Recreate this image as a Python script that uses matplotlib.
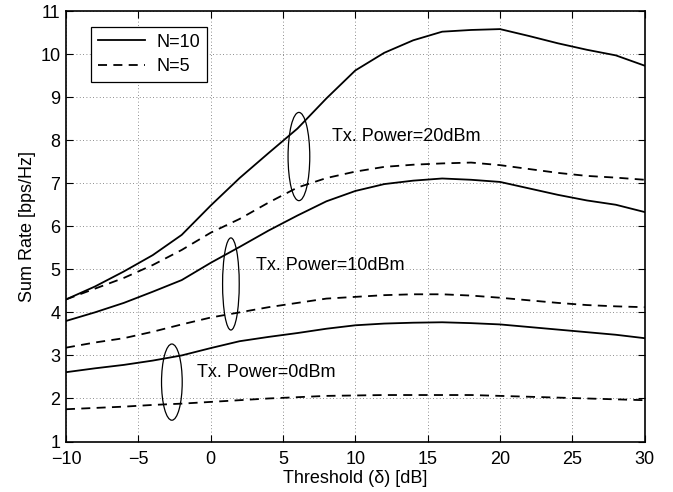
import matplotlib
matplotlib.use('Agg')
import matplotlib.pyplot as plt
from matplotlib.patches import Ellipse
import numpy as np

plt.rcParams['font.family'] = ['Liberation Sans', 'DejaVu Sans']

# threshold values [dB]
thr = np.arange(-10, 31, 2)

# N=10 curves
n10_20dbm = [4.30, 4.60, 4.95, 5.33, 5.80, 6.48, 7.12, 7.70, 8.27, 8.97, 9.62,
             10.03, 10.32, 10.52, 10.56, 10.58, 10.42, 10.25, 10.10, 9.97, 9.73]
n10_10dbm = [3.80, 4.00, 4.22, 4.48, 4.75, 5.15, 5.52, 5.90, 6.25, 6.58, 6.82,
             6.98, 7.06, 7.11, 7.08, 7.03, 6.88, 6.73, 6.60, 6.50, 6.33]
n10_0dbm = [2.61, 2.70, 2.78, 2.88, 3.00, 3.17, 3.33, 3.43, 3.52, 3.62, 3.70,
            3.74, 3.76, 3.77, 3.75, 3.72, 3.66, 3.60, 3.54, 3.48, 3.40]

# N=5 curves
n5_20dbm = [4.30, 4.55, 4.80, 5.10, 5.45, 5.85, 6.17, 6.55, 6.90, 7.12, 7.27,
            7.38, 7.43, 7.46, 7.48, 7.42, 7.33, 7.24, 7.17, 7.13, 7.08]
n5_10dbm = [3.18, 3.30, 3.40, 3.55, 3.72, 3.88, 4.00, 4.12, 4.22, 4.32, 4.36,
            4.40, 4.42, 4.42, 4.39, 4.34, 4.28, 4.22, 4.17, 4.14, 4.12]
n5_0dbm = [1.75, 1.78, 1.81, 1.85, 1.88, 1.92, 1.96, 2.00, 2.03, 2.06, 2.07,
           2.08, 2.08, 2.08, 2.08, 2.06, 2.04, 2.02, 2.00, 1.98, 1.96]

fig = plt.figure(figsize=(6.73, 4.92), dpi=100)
ax = fig.add_axes([0.098, 0.1026, 0.86, 0.875])

dash = (0, (5, 3.5))
ax.plot(thr, n10_20dbm, color='k', lw=1.3, label='N=10')
ax.plot(thr, n5_20dbm, color='k', lw=1.3, linestyle=dash, label='N=5')
ax.plot(thr, n10_10dbm, color='k', lw=1.3)
ax.plot(thr, n5_10dbm, color='k', lw=1.3, linestyle=dash)
ax.plot(thr, n10_0dbm, color='k', lw=1.3)
ax.plot(thr, n5_0dbm, color='k', lw=1.3, linestyle=dash)

# ellipses grouping the curves
ax.add_patch(Ellipse((6.1, 7.62), 1.5, 2.05, fill=False, ec='k', lw=0.9))
ax.add_patch(Ellipse((1.4, 4.66), 1.15, 2.14, fill=False, ec='k', lw=0.9))
ax.add_patch(Ellipse((-2.68, 2.38), 1.43, 1.77, fill=False, ec='k', lw=0.9))

ax.text(8.4, 8.08, 'Tx. Power=20dBm', fontsize=13, va='center')
ax.text(3.1, 5.1, 'Tx. Power=10dBm', fontsize=13, va='center')
ax.text(-0.95, 2.61, 'Tx. Power=0dBm', fontsize=13, va='center')

ax.set_xlim(-10, 30)
ax.set_ylim(1, 11)
ax.set_xticks(np.arange(-10, 31, 5))
ax.set_yticks(np.arange(1, 12, 1))
ax.set_xticklabels(['\u221210', '\u22125', '0', '5', '10', '15', '20', '25', '30'])
ax.tick_params(direction='in', top=True, right=True, labelsize=13, length=5, width=0.8)
ax.tick_params(axis='x', pad=7)
ax.tick_params(axis='y', pad=4)
ax.grid(True, linestyle=(0, (1, 3)), color='k', lw=0.6, alpha=0.6)
for s in ax.spines.values():
    s.set_linewidth(1.2)

ax.set_xlabel('Threshold (\u03b4) [dB]', fontsize=13, labelpad=1)
ax.set_ylabel('Sum Rate [bps/Hz]', fontsize=13, labelpad=3)

leg = ax.legend(loc='upper left', fontsize=13, fancybox=False, edgecolor='k',
                framealpha=1, handlelength=2.6, borderpad=0.4, labelspacing=0.4,
                handletextpad=0.6, bbox_to_anchor=(0.028, 0.985))
leg.get_frame().set_linewidth(0.9)

fig.savefig('out.png', dpi=100)
